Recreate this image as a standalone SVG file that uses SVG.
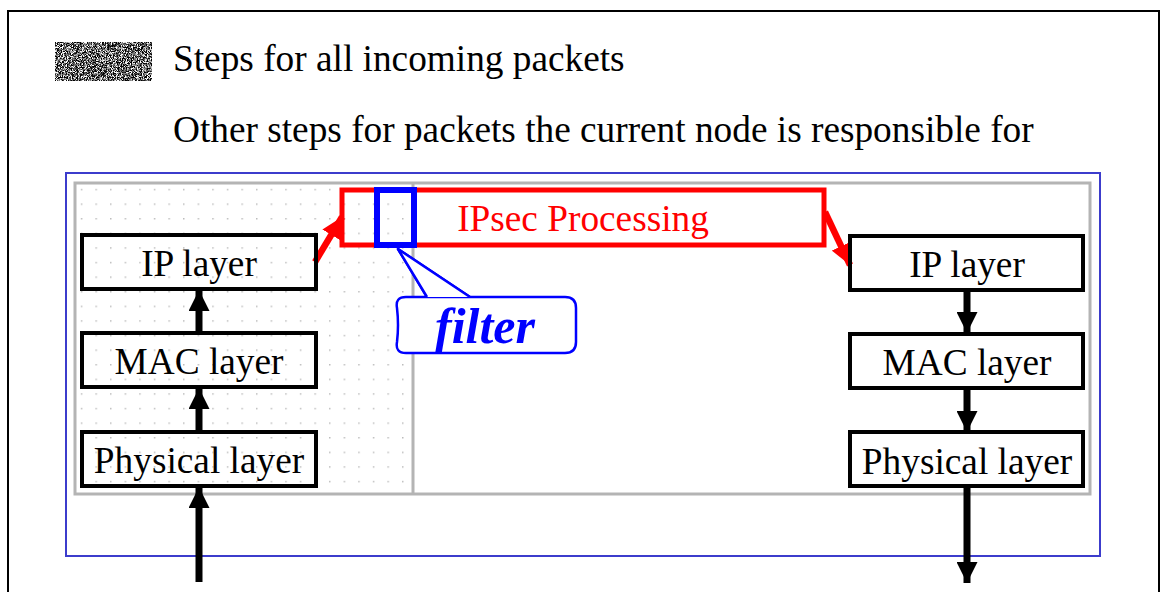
<svg xmlns="http://www.w3.org/2000/svg" width="1161" height="592" viewBox="0 0 1161 592">
<defs>
<pattern id="dots" x="74" y="182" width="14.6" height="14.6" patternUnits="userSpaceOnUse">
<rect x="7" y="7" width="1.2" height="1.2" fill="#9a9a9a"/>
</pattern>
<filter id="noise" x="0" y="0" width="100%" height="100%">
<feTurbulence type="fractalNoise" baseFrequency="1.2" numOctaves="1" seed="3"/>
<feColorMatrix type="matrix" values="0 0 0 0 0  0 0 0 0 0  0 0 0 0 0  -3 -3 0 0 3.6"/>
</filter>
<marker id="ah" viewBox="0 0 10 10" refX="10" refY="5" markerWidth="3" markerHeight="3" markerUnits="strokeWidth" orient="auto">
<path d="M0,0 L10,5 L0,10 z" fill="#000"/>
</marker>
<marker id="ahr" viewBox="0 0 10 10" refX="10" refY="5" markerWidth="3.2" markerHeight="3.2" markerUnits="strokeWidth" orient="auto">
<path d="M0,0 L10,5 L0,10 z" fill="#ff0000"/>
</marker>
<style>
.t{font-family:"Liberation Serif","Times New Roman",serif;font-size:37.3px;fill:#000}
.box{fill:none;stroke:#000;stroke-width:4}
.blk{stroke:#000;stroke-width:7;fill:none}
.red{stroke:#ff0000;stroke-width:6.5;fill:none}
</style>
</defs>
<rect width="1161" height="592" fill="#fff"/>
<rect x="8" y="11" width="1151" height="600" fill="none" stroke="#000" stroke-width="2"/>

<g id="legend">
<rect x="55" y="42" width="97" height="39" fill="#fff"/>
<rect x="55" y="42" width="97" height="39" filter="url(#noise)"/>
<text class="t" x="173" y="71">Steps for all incoming packets</text>
<text class="t" x="173" y="142">Other steps for packets the current node is responsible for</text>
</g>

<g id="frames">
<rect x="66" y="173" width="1034" height="383" fill="none" stroke="#3c3ccc" stroke-width="2"/>
<rect x="75" y="183" width="338" height="311" fill="url(#dots)"/>
<rect x="75" y="183" width="1015" height="311" fill="none" stroke="#b4b4b4" stroke-width="3"/>
<line x1="413" y1="183" x2="413" y2="494" stroke="#b4b4b4" stroke-width="3"/>
</g>

<g id="connectors">
<line class="blk" x1="199" y1="333" x2="199" y2="290" marker-end="url(#ah)"/>
<line class="blk" x1="199" y1="432" x2="199" y2="388" marker-end="url(#ah)"/>
<line class="blk" x1="199" y1="582" x2="199" y2="487" marker-end="url(#ah)"/>
<line class="blk" x1="967" y1="290" x2="967" y2="333" marker-end="url(#ah)"/>
<line class="blk" x1="967" y1="388" x2="967" y2="432" marker-end="url(#ah)"/>
<line class="blk" x1="967" y1="486" x2="967" y2="583" marker-end="url(#ah)"/>
<line class="red" x1="315" y1="262" x2="342" y2="217" marker-end="url(#ahr)"/>
<line class="red" x1="825" y1="212" x2="850" y2="265" marker-end="url(#ahr)"/>
</g>

<g id="ip-left">
<rect class="box" x="82" y="235" width="234" height="54"/>
<text class="t" x="199" y="276" text-anchor="middle">IP layer</text>
</g>
<g id="mac-left">
<rect class="box" x="82" y="333" width="234" height="54"/>
<text class="t" x="199" y="374" text-anchor="middle">MAC layer</text>
</g>
<g id="phy-left">
<rect class="box" x="82" y="432" width="234" height="54"/>
<text class="t" x="199" y="473" text-anchor="middle">Physical layer</text>
</g>

<g id="ip-right">
<rect class="box" x="850" y="236" width="233" height="54"/>
<text class="t" x="967" y="277" text-anchor="middle">IP layer</text>
</g>
<g id="mac-right">
<rect class="box" x="850" y="334" width="233" height="54"/>
<text class="t" x="967" y="375" text-anchor="middle">MAC layer</text>
</g>
<g id="phy-right">
<rect class="box" x="850" y="432" width="233" height="54"/>
<text class="t" x="967" y="474" text-anchor="middle">Physical layer</text>
</g>

<g id="ipsec">
<rect x="342" y="190" width="482" height="55" fill="none" stroke="#ff0000" stroke-width="5"/>
<text class="t" x="583" y="231" text-anchor="middle" style="fill:#ff0000">IPsec Processing</text>
</g>

<g id="filter-box">
<rect x="377" y="190" width="37" height="55" fill="none" stroke="#0000ff" stroke-width="6"/>
</g>

<g id="filter-callout">
<path d="M398,249 L427,297 L565,297 Q576,297 576,308 L576,342 Q576,353 565,353 L406,353 Q395,353 397,342 Q399,325 397,308 Q395,297 406,297 L427,297 L470,297 Z" fill="#fff" stroke="#0000ff" stroke-width="2.5" stroke-linejoin="round"/>
<path d="M398,249 L427,297 L470,297 Z" fill="#fff" stroke="none"/>
<path d="M427,297 L398,249 L470,297" fill="none" stroke="#0000ff" stroke-width="2.5" stroke-linejoin="round"/>
<text x="485" y="343" text-anchor="middle" style="font-family:'Liberation Serif','Times New Roman',serif;font-size:50px;font-weight:bold;font-style:italic;fill:#0000ff">filter</text>
</g>
</svg>
